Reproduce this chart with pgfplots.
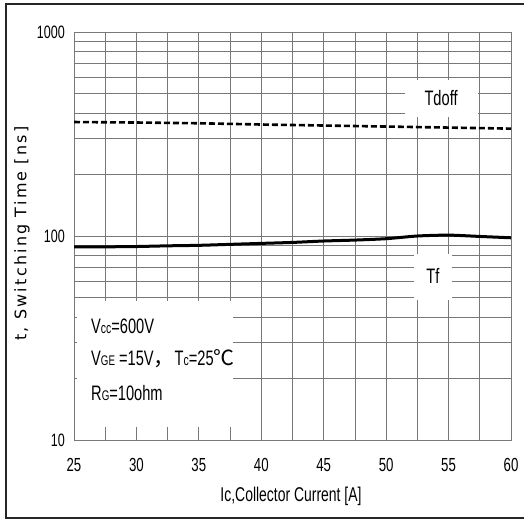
\documentclass[border=0pt]{standalone}
\usepackage{fontspec}
\setmainfont{Liberation Sans}
\newfontfamily\narrow{Liberation Sans}[FakeStretch=0.7]
\newfontfamily\ylabfont{DejaVu Sans}[LetterSpace=14]
\newfontfamily\cjk{Noto Sans CJK SC}
\usepackage{pgfplots}
\pgfplotsset{compat=1.18}
\definecolor{gridgray}{RGB}{120,120,120}
\begin{document}
\begin{tikzpicture}
\begin{axis}[
  set layers,
  at={(74bp,80bp)}, anchor=south west,
  scale only axis, width=437bp, height=408bp,
  ymode=log,
  xmin=25, xmax=60, ymin=10, ymax=1000,
  xtick={25,30,...,60},
  minor x tick num=1,
  ytick={10,100,1000},
  yticklabels={10,100,1000},
  grid=both,
  major grid style={gridgray, line width=0.8bp},
  minor grid style={gridgray, line width=0.8bp},
  axis line style={gridgray, line width=0.9bp},
  major tick length=0pt, minor tick length=0pt,
  /pgf/number format/assume math mode=true,
  xticklabel style={font=\narrow\fontsize{19}{19}\selectfont, inner sep=0pt, yshift=-18bp},
  yticklabel style={font=\narrow\fontsize{18}{18}\selectfont, inner sep=0pt, xshift=-9bp},
  xlabel={Ic,Collector Current [A]},
  xlabel style={font=\narrow\fontsize{20}{20}\selectfont, at={(axis description cs:0.4966,-0.137)}, anchor=center},
  ylabel={t, Switching Time [ns]},
  ylabel style={font=\ylabfont\fontsize{16}{16}\selectfont, at={(axis description cs:-0.119,0.506)}, anchor=center},
]
% white label boxes covering the grid
\fill[white] (axis cs:25.24,11.6) rectangle (axis cs:37.74,48);
\fill[white] (axis cs:51.52,385) rectangle (axis cs:57.37,585);
\fill[white] (axis cs:52.2,48.5) rectangle (axis cs:55.3,82);

\addplot[black, line width=2.6bp, dash pattern=on 6bp off 3bp] coordinates {
(25,362) (30,360) (35,357) (40,352) (45,348) (50,344) (55,340) (60,336)
};
\addplot[black, line width=3bp, smooth, tension=0.4] coordinates {
(25,88.5) (27.5,88.5) (30,88.8) (32.5,89.5) (35,90) (37.5,91) (40,92) (42.5,93)
(45,94.5) (47.5,95.5) (50,97) (52.5,100) (55,101) (57.5,99.5) (60,98)
};

\node[font=\narrow\fontsize{21}{21}\selectfont] at (axis cs:54.4,475) {Tdoff};
\node[font=\narrow\fontsize{21}{21}\selectfont] at (axis cs:53.75,63.5) {Tf};

\node[anchor=base west, inner sep=0pt, font=\narrow\fontsize{21}{21}\selectfont] at (axis cs:26.36,33.1)
  {V{\fontsize{15}{15}\selectfont cc}=600V};
\node[anchor=base west, inner sep=0pt, font=\narrow\fontsize{21}{21}\selectfont] at (axis cs:26.36,23.06)
  {V{\fontsize{14}{14}\selectfont GE} =15V{\cjk ，}T{\fontsize{15}{15}\selectfont c}=25{\cjk ℃}};
\node[anchor=base west, inner sep=0pt, font=\narrow\fontsize{21}{21}\selectfont] at (axis cs:26.36,15.7)
  {R{\fontsize{14}{14}\selectfont G}=10ohm};
\end{axis}
\draw[line width=1.5bp, black!85] (524bp,516bp) -- (6bp,516bp) -- (6bp,2bp) -- (524bp,2bp);
\pgfresetboundingbox
\path[use as bounding box] (0,0) rectangle (524bp,520bp);
\end{tikzpicture}
\end{document}
